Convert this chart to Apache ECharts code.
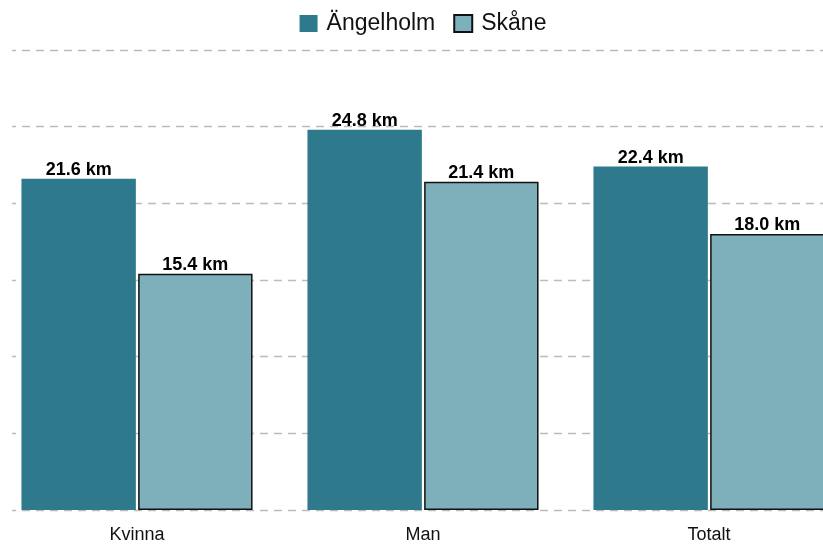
<!DOCTYPE html>
<html lang="sv">
<head>
    <meta charset="UTF-8">
    <title>Ängelholm vs Skåne</title>
    <script src="https://cdn.jsdelivr.net/npm/echarts@6.0.0/dist/echarts.min.js"></script>
    <style>
        body { margin: 0; background: #ffffff; overflow: hidden; }
        #main { position: absolute; left: -6px; top: 0; }
    </style>
</head>
<body>
    <!-- plot runs past the right edge in the original, so the div is wider than the window -->
    <div id="main" style="width: 858px;height:544px;"></div>
    <script type="text/javascript">
        // data
        const categories = ['Kvinna', 'Man', 'Totalt'];
        const angelholm = [21.6, 24.8, 22.4];
        const skane = [15.4, 21.4, 18.0];

        const font = 'Liberation Sans, Arial, sans-serif';

        let label = {
            show: true,
            position: 'top',
            distance: 0,
            color: '#000',
            fontWeight: 'bold',
            fontSize: 18,
            fontFamily: font,
            formatter: (p) => p.value.toFixed(1) + ' km'
        };

        let options = {
            animation: false,
            textStyle: { fontFamily: font },
            legend: {
                top: 7,
                left: 'center',
                icon: 'rect',
                itemWidth: 18,
                itemHeight: 17,
                itemGap: 18,
                padding: [5, 0, 5, 10],
                textStyle: { fontSize: 23, color: '#111', fontFamily: font, padding: [0, 0, 0, 4] }
            },
            grid: { left: 0, right: 0, top: 50, bottom: 32 },
            xAxis: {
                type: 'category',
                data: categories,
                axisLine: { show: false },
                axisTick: { show: false },
                axisLabel: { color: '#111', fontSize: 18, margin: 16 }
            },
            yAxis: {
                type: 'value',
                min: 0,
                max: 30,
                interval: 5,
                axisLabel: { show: false },
                axisLine: { show: false },
                axisTick: { show: false },
                splitLine: { lineStyle: { color: '#bbbbbb', type: [8, 6], width: 1.3 } }
            },
            series: [
                {
                    name: 'Ängelholm',
                    type: 'bar',
                    data: angelholm,
                    barWidth: '40%',
                    barGap: '2%',
                    itemStyle: { color: '#2e7a8c' },
                    label: label
                },
                {
                    name: 'Skåne',
                    type: 'bar',
                    data: skane,
                    barWidth: '40%',
                    itemStyle: { color: '#7db0ba', borderColor: '#111', borderWidth: 1.5 },
                    label: label
                }
            ],
            graphic: [
                // gridlines start a little in from the left edge
                { type: 'rect', left: 0, top: 40, z: 100, shape: { width: 18, height: 480 }, style: { fill: '#fff' } }
            ]
        };

        let myChart = echarts.init(document.getElementById('main'));
        myChart.setOption(options);
    </script>
</body>
</html>
